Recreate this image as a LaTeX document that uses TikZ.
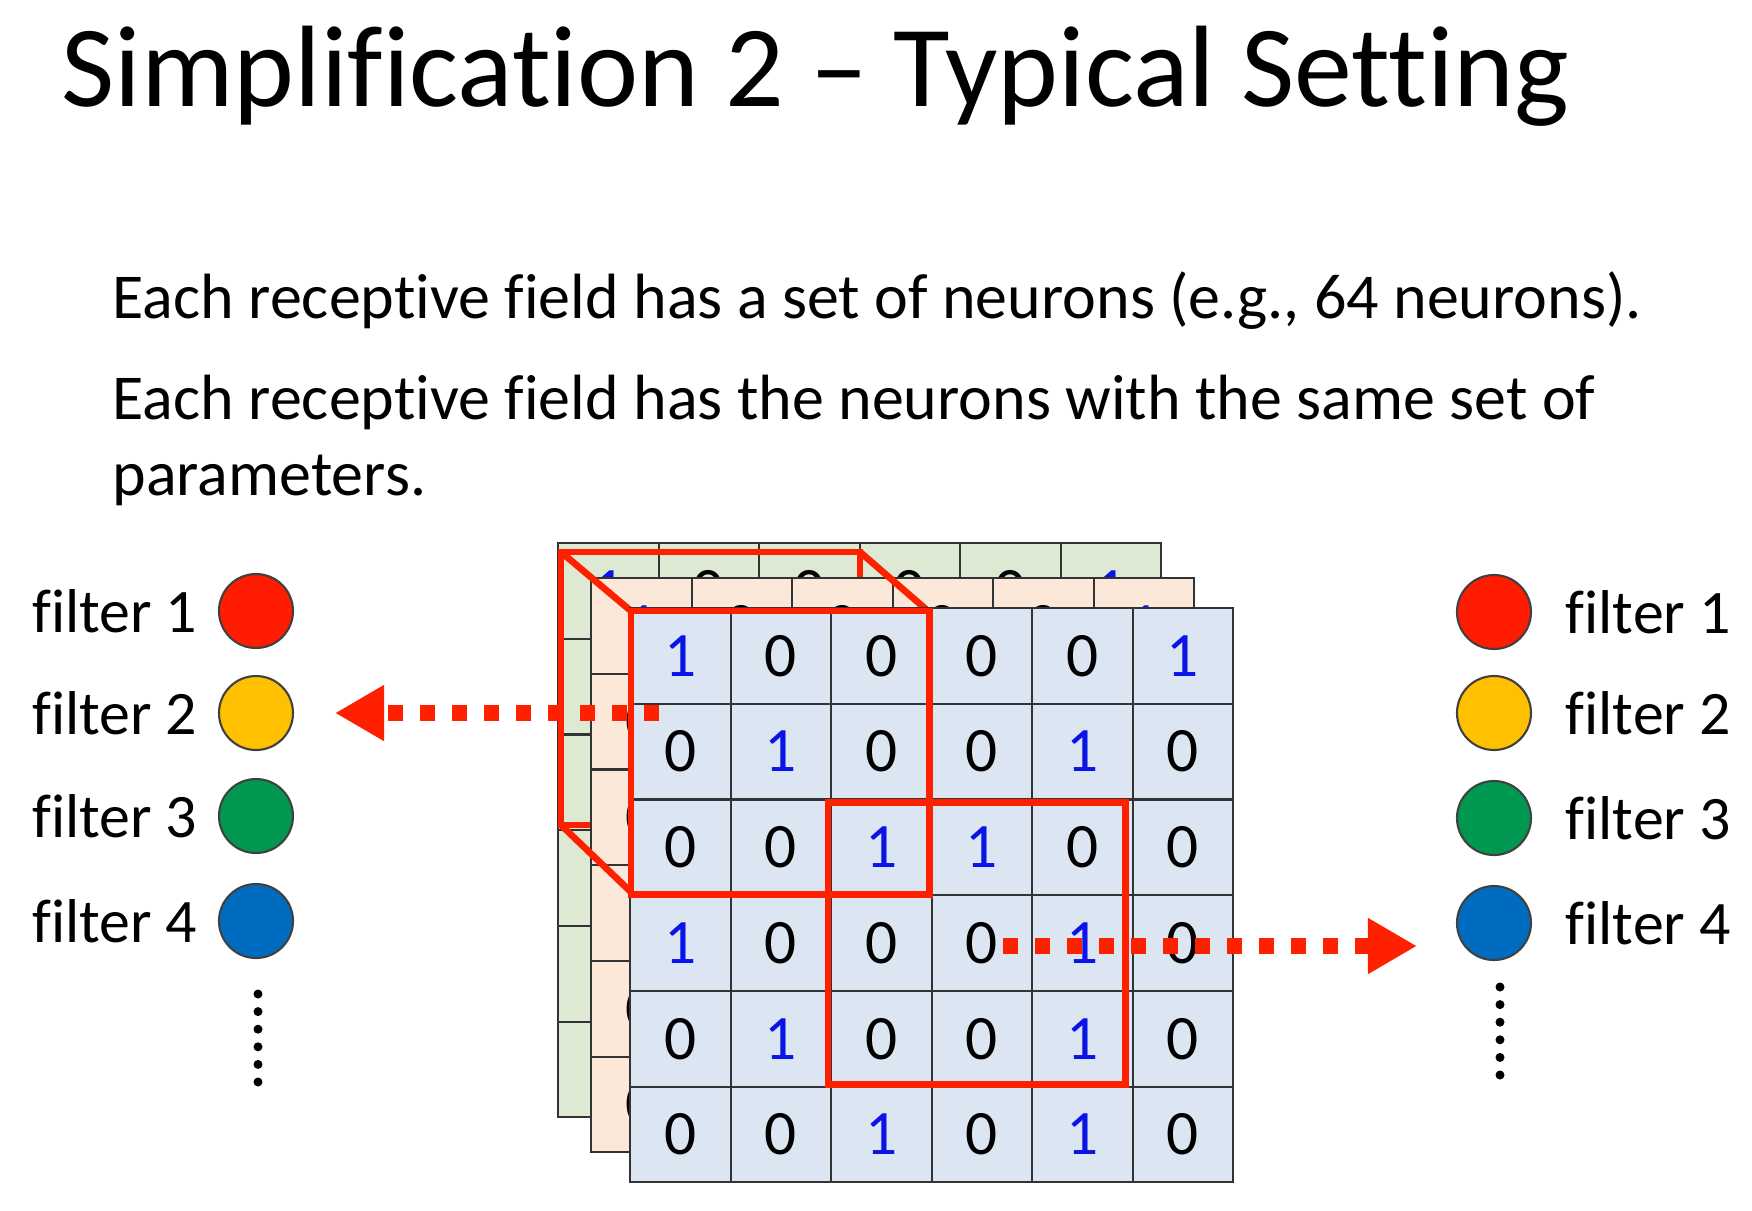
\documentclass[tikz,border=0pt]{standalone}
\usepackage{fontspec}
\setmainfont{Carlito}[Ligatures={TeX,NoCommon}]
\usepackage{xcolor}
\usepackage{tikz}
\usetikzlibrary{
  arrows.meta,
  positioning,
  calc
}
\definecolor{cellblue}{RGB}{220,230,242}
\definecolor{cellpeach}{RGB}{252,232,216}
\definecolor{cellgreen}{RGB}{221,233,210}
\definecolor{boxred}{RGB}{255,32,0}
\definecolor{numblue}{RGB}{10,20,230}
\definecolor{f1red}{RGB}{255,28,0}
\definecolor{f2yellow}{RGB}{255,192,0}
\definecolor{f3green}{RGB}{0,152,80}
\definecolor{f4blue}{RGB}{0,108,192}

\tikzset{
  cell/.style={draw=black!80, line width=0.6pt, anchor=north west,
    minimum width=10.05mm, minimum height=9.57mm, inner sep=0pt,
    font=\fontsize{18}{18}\selectfont},
  redbox/.style={draw=boxred, line width=1.9pt},
  dotarrow/.style={boxred, line width=4.3pt, dash pattern=on 4.3pt off 4.8pt,
    -{Triangle[length=14pt,width=15pt]}},
  filterdot/.style={circle, draw=black!75, line width=0.6pt,
    minimum size=7.4mm, inner sep=0pt},
  flabel/.style={inner sep=0pt, font=\fontsize{17.6}{20}\selectfont},
}

% one 6x6 layer: name, left, top, fill
\newcommand{\gridlayer}[4]{%
  \foreach \row [count=\r from 0] in {{1,0,0,0,0,1},{0,1,0,0,1,0},{0,0,1,1,0,0},
                                      {1,0,0,0,1,0},{0,1,0,0,1,0},{0,0,1,0,1,0}}{
    \foreach \v [count=\c from 0] in \row {
      \node[cell, fill=#4] (#1-\r-\c) at ({#2+\c*100.5},{#3+\r*95.7})
        {\ifnum\v=1 \color{numblue}\fi\v};
    }
  }
}

\begin{document}
\begin{tikzpicture}[x=0.1mm, y=-0.1mm]
  \useasboundingbox[fill=white] (0,0) rectangle (1752,1210);

  % title and text
  \node[anchor=base west, inner sep=0pt, font=\fontsize{32.95}{40}\selectfont] (title) at (61,106)
    {Simplification 2 – Typical Setting};
  \node[anchor=base west, inner sep=0pt, font=\fontsize{18.2}{22}\selectfont] (line1) at (112,318)
    {Each receptive field has a set of neurons (e.g., 64 neurons).};
  \node[anchor=base west, inner sep=0pt, font=\fontsize{18.2}{22}\selectfont] (line2) at (112,419)
    {Each receptive field has the neurons with the same set of};
  \node[anchor=base west, inner sep=0pt, font=\fontsize{18.2}{22}\selectfont] (line3) at (112,495)
    {parameters.};

  % stacked layers with the receptive field cube
  \gridlayer{g}{557}{542}{cellgreen}
  \draw[redbox] (561,552) rectangle (860,825);
  \gridlayer{p}{590}{577}{cellpeach}
  \draw[redbox] (561,552) -- (631,611);
  \draw[redbox] (860,552) -- (928,611);
  \draw[redbox] (561,825) -- (631,892);
  \gridlayer{f}{629}{607}{cellblue}
  \draw[redbox] ($(f-0-0.north west)+(2,4)$) rectangle ($(f-2-2.south east)+(-3,-2)$);
  \draw[redbox] ($(f-2-2.north west)+(-2,4)$) rectangle ($(f-4-4.south east)+(-8,-3)$);

  % left filters
  \node[filterdot, fill=f1red] (lc1) at (256,611) {};
  \node[filterdot, fill=f2yellow] (lc2) at (256,713) {};
  \node[filterdot, fill=f3green] (lc3) at (256,816) {};
  \node[filterdot, fill=f4blue] (lc4) at (256,921) {};
  \node[flabel, left=2mm of lc1] (ll1) {filter 1};
  \node[flabel, left=2mm of lc2] (ll2) {filter 2};
  \node[flabel, left=2mm of lc3] (ll3) {filter 3};
  \node[flabel, left=2mm of lc4] (ll4) {filter 4};
  \foreach \i in {0,...,5}
    \fill (258,{994+\i*17.6}) circle[radius=4.5];

  % right filters
  \node[filterdot, fill=f1red] (rc1) at (1494,612) {};
  \node[filterdot, fill=f2yellow] (rc2) at (1494,713) {};
  \node[filterdot, fill=f3green] (rc3) at (1494,818) {};
  \node[filterdot, fill=f4blue] (rc4) at (1494,923) {};
  \node[flabel, right=3.3mm of rc1] (rl1) {filter 1};
  \node[flabel, right=3.3mm of rc2] (rl2) {filter 2};
  \node[flabel, right=3.3mm of rc3] (rl3) {filter 3};
  \node[flabel, right=3.3mm of rc4] (rl4) {filter 4};
  \foreach \i in {0,...,5}
    \fill (1500,{987+\i*17.6}) circle[radius=4.5];

  % dotted arrows
  \coordinate (lstart) at (659,713);
  \coordinate (lend) at (335,713);
  \coordinate (rstart) at (1003,946);
  \coordinate (rend) at (1417,946);
  \draw[dotarrow] (lstart) -- (lend);
  \draw[dotarrow] (rstart) -- (rend);
\end{tikzpicture}
\end{document}
